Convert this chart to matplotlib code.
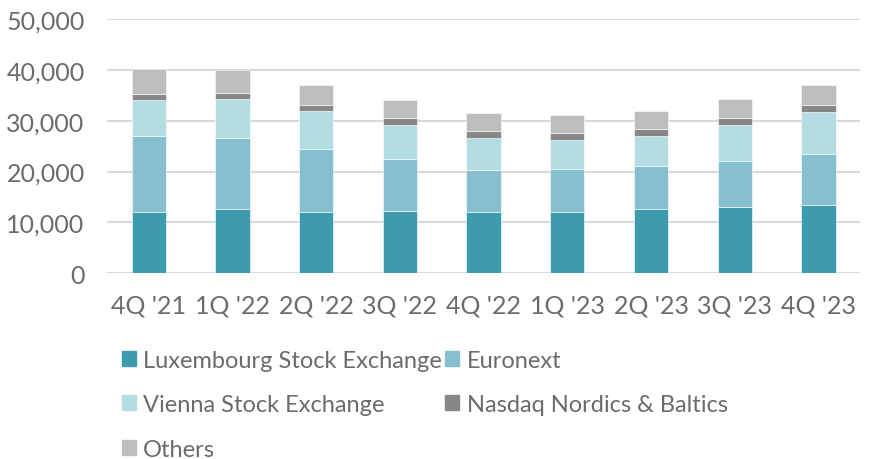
import matplotlib.pyplot as plt
import numpy as np
from matplotlib.ticker import FuncFormatter
from matplotlib.patches import Patch

plt.rcParams['font.family'] = ['Lato', 'DejaVu Sans']

quarters = ["4Q '21", "1Q '22", "2Q '22", "3Q '22", "4Q '22", "1Q '23", "2Q '23", "3Q '23", "4Q '23"]
luxembourg = [12100, 12570, 12100, 12170, 11970, 12100, 12570, 13090, 13490]
euronext = [14800, 13940, 12300, 10260, 8420, 8430, 8610, 9010, 9870]
vienna = [7100, 7700, 7440, 6710, 6190, 5720, 5790, 7040, 8350]
nasdaq = [1200, 1250, 1320, 1320, 1380, 1320, 1320, 1320, 1320]
others = [4870, 4470, 3940, 3680, 3490, 3610, 3620, 3750, 3940]

series = [
    ("Luxembourg Stock Exchange", luxembourg, "#3e9bae"),
    ("Euronext", euronext, "#86c0d0"),
    ("Vienna Stock Exchange", vienna, "#b4dde3"),
    ("Nasdaq Nordics & Baltics", nasdaq, "#878787"),
    ("Others", others, "#bdbdbd"),
]

text_color = "#6b6b6b"

fig = plt.figure(figsize=(8.69, 4.60), dpi=100)
ax = fig.add_axes([0.123, 0.404, 0.867, 0.5525])

x = np.arange(len(quarters))
bottom = np.zeros(len(quarters))
handles = {}
for name, vals, color in series:
    ax.bar(x, vals, 0.41, bottom=bottom, color=color, edgecolor="white", linewidth=0.4, zorder=3)
    bottom += np.array(vals)
    handles[name] = Patch(facecolor=color, edgecolor=color)

ax.set_xlim(-0.5, len(quarters) - 0.5)
ax.set_ylim(0, 50000)
ax.set_yticks(range(0, 50001, 10000))
ax.yaxis.set_major_formatter(FuncFormatter(lambda v, p: f"{int(v):,}"))
ax.set_xticks(x)
ax.set_xticklabels(quarters)

ax.grid(axis="y", color="#d9d9d9", linewidth=1.5, zorder=0)
for s in ax.spines.values():
    s.set_visible(False)
ax.tick_params(axis="both", length=0, labelsize=18, labelcolor=text_color)
ax.tick_params(axis="y", pad=16)
ax.tick_params(axis="x", pad=15)

order = ["Luxembourg Stock Exchange", "Vienna Stock Exchange", "Others",
         "Euronext", "Nasdaq Nordics & Baltics"]
leg = fig.legend([handles[n] for n in order], order, ncol=2, loc="upper left",
                 bbox_to_anchor=(0.14, 0.238), frameon=False,
                 prop={"size": 17},
                 handlelength=0.6, handleheight=0.6, handletextpad=0.3,
                 columnspacing=0.15, labelspacing=1.0, borderaxespad=0, borderpad=0)
for t in leg.get_texts():
    t.set_color(text_color)

fig.savefig("out.png", dpi=100)
